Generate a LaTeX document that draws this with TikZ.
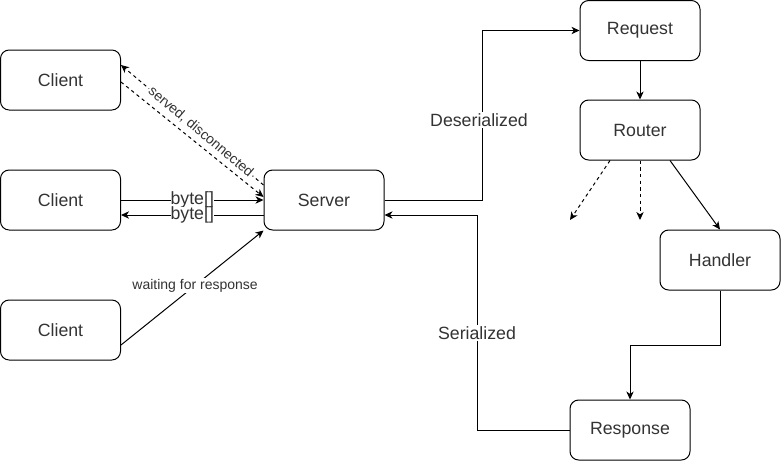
\documentclass[tikz,border=0pt]{standalone}
\usepackage{fontspec}
\setmainfont{Liberation Sans}
\usetikzlibrary{arrows.meta,calc}
\definecolor{txt}{RGB}{51,51,51}
\tikzset{
  box/.style={draw=black, line width=0.75pt, rounded corners=6.5pt, minimum width=90pt, minimum height=45pt, inner sep=0pt, text=txt, font=\fontsize{13.3pt}{15pt}\selectfont},
  conn/.style={line width=0.75pt, -{Stealth[length=6pt,width=5.5pt,inset=1.8pt]}},
  dsh/.style={conn, dash pattern=on 2.5pt off 2.5pt},
  lbl/.style={fill=white, text=txt, inner sep=1pt, font=\fontsize{13.3pt}{15pt}\selectfont},
  slbl/.style={fill=white, text=txt, inner sep=1pt, font=\fontsize{10.5pt}{12pt}\selectfont}
}
\begin{document}
\begin{tikzpicture}[x=0.75pt,y=-0.75pt]
\useasboundingbox (0,0) rectangle (781,461);
\node[box] (client1) at (60.5,80) {Client};
\node[box] (client2) at (60.5,200) {Client};
\node[box] (client3) at (60.5,330) {Client};
\node[box] (server) at (324,200) {Server};
\node[box] (request) at (640,30.5) {Request};
\node[box] (router) at (640,130) {Router};
\node[box] (handler) at (720,260) {Handler};
\node[box] (response) at (630,430) {Response};
% dashed served/disconnected
\draw[dsh] ([yshift=11.25pt]server.west) -- node[slbl, sloped, pos=0.44] {served, disconnected} ([yshift=11.25pt]client1.east);
\draw[dsh] ([yshift=-1.5pt]client1.east) -- ([yshift=2.25pt]server.west);
% byte[] arrows
\draw[conn] (client2.east) -- node[lbl, inner sep=0pt] {byte[]} (server.west);
\draw[conn] ([yshift=-11.25pt]server.west) -- node[lbl, inner sep=0pt] {byte[]} ([yshift=-11.25pt]client2.east);
% waiting
\draw[conn] ([yshift=-11.25pt]client3.east) -- node[slbl, pos=0.52] {waiting for response} (server.south west);
% deserialized
\coordinate (d1) at (482.5,200);
\draw[conn] (server.east) -- (d1) |- (request.west);
\node[lbl] at (479,120) {Deserialized};
% request -> router
\draw[conn] (request.south) -- (router.north);
% router outputs
\coordinate (r1) at (570,220);
\coordinate (r2) at (640,220);
\draw[dsh] ([xshift=-22.5pt]router.south) -- (r1);
\draw[dsh] (router.south) -- (r2);
\draw[conn] ([xshift=22.5pt]router.south) -- (handler.north);
% handler -> response
\coordinate (h1) at (720,345);
\draw[conn] (handler.south) -- (h1) -| (response.north);
% response -> server
\coordinate (s1) at (477.5,430);
\draw[conn] (response.west) -- (s1) |- ([yshift=-11.25pt]server.east);
\node[lbl] at (477,333) {Serialized};
\end{tikzpicture}
\end{document}
